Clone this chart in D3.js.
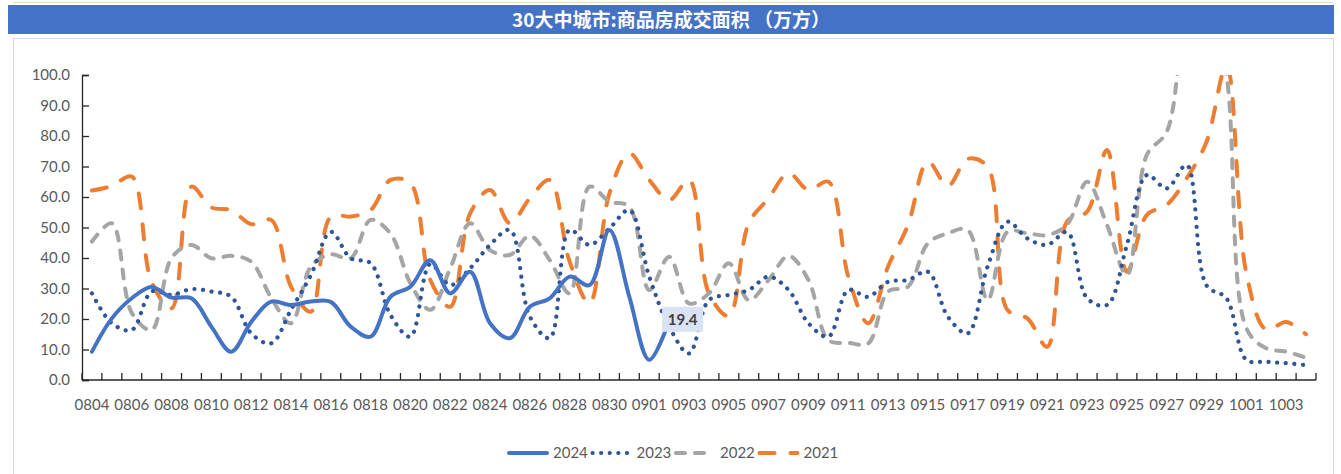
<!DOCTYPE html>
<html>
<head>
<meta charset="utf-8">
<script src="https://cdn.jsdelivr.net/npm/d3@7"></script>
<style>
  body { margin: 0; background: #fff; }
  svg { display: block; }
</style>
</head>
<body>
<div id="chart"></div>
<script>
// Daily categories, 0804 -> 1004
var dates = ['0804','0805','0806','0807','0808','0809','0810','0811','0812','0813',
    '0814','0815','0816','0817','0818','0819','0820','0821','0822','0823','0824','0825',
    '0826','0827','0828','0829','0830','0831','0901','0902','0903','0904','0905','0906',
    '0907','0908','0909','0910','0911','0912','0913','0914','0915','0916','0917','0918',
    '0919','0920','0921','0922','0923','0924','0925','0926','0927','0928','0929','0930',
    '1001','1002','1003','1004'];

// only every second date gets a label
var xTickLabels = ['0804','0806','0808','0810','0812','0814','0816','0818','0820','0822',
    '0824','0826','0828','0830','0901','0903','0905','0907','0909','0911','0913','0915',
    '0917','0919','0921','0923','0925','0927','0929','1001','1003'];

var yTicks = [0, 10, 20, 30, 40, 50, 60, 70, 80, 90, 100];

// 万方
var values2024 = [9.3, 20.2, 26.8, 30.5, 27.0, 26.8, 17.5, 9.3, 19.0, 25.7,
    24.6, 25.7, 25.6, 17.5, 14.2, 27.3, 30.6, 39.3, 28.4, 35.5,
    18.6, 13.7, 24.0, 26.8, 33.9, 31.1, 49.2, 27.3, 6.6, 19.4];

var values2023 = [28.4, 18.6, 16.4, 29.0, 27.9, 29.8, 29.0, 27.3, 15.3, 12.0,
    23.0, 34.4, 48.6, 39.9, 38.3, 21.3, 14.2, 38.0, 31.1, 36.6,
    44.3, 49.2, 20.8, 13.7, 49.2, 44.3, 49.7, 55.7, 33.9, 17.5,
    8.7, 26.2, 27.9, 29.5, 33.9, 29.5, 18.6, 14.2, 29.5, 27.3,
    32.2, 32.8, 35.5, 20.8, 15.3, 37.2, 51.9, 46.4, 44.3, 48.5,
    26.8, 24.6, 44.3, 67.2, 62.8, 70.5, 31.0, 26.8, 6.6, 6.0,
    5.5, 4.9];

var values2022 = [45.4, 51.4, 22.0, 16.4, 40.0, 44.3, 39.9, 40.7, 38.8, 27.0,
    18.6, 37.2, 41.2, 39.9, 52.5, 48.0, 31.7, 23.0, 36.6, 51.4,
    42.6, 41.0, 47.3, 39.3, 28.4, 63.4, 58.5, 56.8, 29.5, 40.4,
    25.1, 28.4, 38.3, 26.2, 32.8, 40.7, 32.8, 13.1, 12.2, 12.0,
    29.0, 30.6, 44.8, 48.1, 49.2, 26.2, 48.6, 48.1, 47.5, 51.0,
    65.0, 50.8, 34.4, 73.8, 81.4, 118.0, 128.0, 100.0, 17.0, 10.4,
    9.3, 7.3];

var values2021 = [62.1, 63.6, 66.7, 32.0, 23.5, 63.4, 56.6, 55.7, 51.1, 52.5,
    30.6, 22.4, 53.5, 53.6, 55.7, 65.6, 64.5, 32.8, 24.0, 54.6,
    62.3, 51.4, 59.6, 65.6, 38.8, 25.1, 61.2, 74.3, 65.6, 59.0,
    65.6, 28.4, 21.0, 51.4, 59.6, 67.8, 62.3, 65.0, 33.9, 18.6,
    37.2, 50.8, 71.6, 63.6, 72.5, 69.9, 23.0, 20.2, 10.9, 52.0,
    55.2, 75.4, 35.5, 54.1, 57.4, 66.1, 78.1, 103.0, 35.0, 16.5,
    19.0, 15.0];

var seriesNames = ['2024', '2023', '2022', '2021'];

var title = '30大中城市:商品房成交面积 （万方）';


// line look per series
var styles = {
    '2024': {color: '#4472C4', width: 4, dash: null, cap: 'round'},
    '2023': {color: '#2F5597', width: 4.2, dash: '0.1 8.5', cap: 'round'},
    '2022': {color: '#A5A5A5', width: 4, dash: '9 10', cap: 'round'},
    '2021': {color: '#ED7D31', width: 4, dash: '15 16', cap: 'round'}
};

var series = [
    {name: '2024', values: values2024},
    {name: '2023', values: values2023},
    {name: '2022', values: values2022},
    {name: '2021', values: values2021}
];

var width = 1341, height = 474;
var plot = {left: 82, right: 1316, top: 75, bottom: 380};

var svg = d3.select('#chart')
    .append('svg')
        .attr('width', width)
        .attr('height', height);

// panel frames
svg.append('line')
    .attr('x1', 13).attr('x2', 1333).attr('y1', 2.5).attr('y2', 2.5)
    .attr('stroke', '#D9D9D9');
svg.append('rect')
    .attr('x', 13.5).attr('y', 38.5)
    .attr('width', 1320).attr('height', 460)
    .attr('fill', 'none')
    .attr('stroke', '#D9D9D9');

// title banner
svg.append('rect')
    .attr('x', 8).attr('y', 5)
    .attr('width', 1326).attr('height', 29)
    .attr('fill', '#4472C4');
svg.append('text')
    .attr('x', 671).attr('y', 20)
    .attr('dy', '0.36em')
    .attr('text-anchor', 'middle')
    .attr('fill', '#fff')
    .style('font-family', '"Noto Sans CJK SC", "Noto Sans", sans-serif')
    .style('font-size', '19px')
    .style('font-weight', 'bold')
    .text(title);

// scales
var x = d3.scaleBand().domain(dates).range([plot.left, plot.right]);
var y = d3.scaleLinear().domain([0, 100]).range([plot.bottom, plot.top]);
var cx = function(d) { return x(d) + x.bandwidth() / 2; };

var font = 'Lato, "Open Sans", sans-serif';

// y axis, ticks pointing into the plot
var yAxis = d3.axisLeft(y)
    .tickValues(yTicks)
    .tickSize(-7)
    .tickPadding(12)
    .tickFormat(d3.format('.1f'));

var gy = svg.append('g')
    .attr('transform', 'translate(' + plot.left + ',0)')
    .call(yAxis);
gy.select('.domain').attr('stroke', '#262626').attr('stroke-width', 1.3);
gy.selectAll('.tick line').attr('stroke', '#262626').attr('stroke-width', 1.3);
gy.selectAll('text')
    .attr('fill', '#595959')
    .style('font-family', font)
    .style('font-size', '15px');

// x axis labels (every other day)
var xAxis = d3.axisBottom(x)
    .tickValues(xTickLabels)
    .tickSize(0)
    .tickPadding(19);

var gx = svg.append('g')
    .attr('transform', 'translate(0,' + plot.bottom + ')')
    .call(xAxis);
gx.select('.domain').remove();
gx.selectAll('text')
    .attr('fill', '#595959')
    .style('font-family', font)
    .style('font-size', '15px');

// x axis line and tick marks between categories
svg.append('line')
    .attr('x1', plot.left).attr('x2', plot.right)
    .attr('y1', plot.bottom).attr('y2', plot.bottom)
    .attr('stroke', '#262626').attr('stroke-width', 1.3);

svg.append('g')
    .selectAll('line')
    .data(dates.map(function(d) { return x(d); }).concat([plot.right]))
    .enter().append('line')
        .attr('x1', function(d) { return d; })
        .attr('x2', function(d) { return d; })
        .attr('y1', plot.bottom)
        .attr('y2', plot.bottom - 7)
        .attr('stroke', '#262626').attr('stroke-width', 1.3);

// clip lines to the plot area (2021 / 2022 go over 100)
svg.append('clipPath')
    .attr('id', 'plotClip')
    .append('rect')
        .attr('x', plot.left).attr('y', plot.top)
        .attr('width', plot.right - plot.left)
        .attr('height', plot.bottom - plot.top);

var valueline = d3.line()
    .x(function(d, i) { return cx(dates[i]); })
    .y(function(d) { return y(d); })
    .curve(d3.curveCatmullRom.alpha(0.5));

var lines = svg.append('g').attr('clip-path', 'url(#plotClip)');

// draw older years first so 2024 sits on top
series.slice().reverse().forEach(function(s) {
    var st = styles[s.name];
    lines.append('path')
        .attr('d', valueline(s.values))
        .attr('fill', 'none')
        .attr('stroke', st.color)
        .attr('stroke-width', st.width)
        .attr('stroke-linecap', st.cap)
        .attr('stroke-linejoin', 'round')
        .attr('stroke-dasharray', st.dash);
});

// data label on the last 2024 point
var lastIdx = values2024.length - 1;
var lx = cx(dates[lastIdx]), ly = y(values2024[lastIdx]);
svg.append('rect')
    .attr('x', lx - 7).attr('y', ly - 14)
    .attr('width', 41).attr('height', 25)
    .attr('fill', '#DAE3F3');
svg.append('text')
    .attr('x', lx + 13.5).attr('y', ly - 1.5)
    .attr('dy', '0.35em')
    .attr('text-anchor', 'middle')
    .attr('fill', '#404040')
    .style('font-family', font)
    .style('font-size', '15px')
    .style('font-weight', 'bold')
    .text(d3.format('.1f')(values2024[lastIdx]));

// legend
var legend = svg.append('g')
    .attr('transform', 'translate(507,453)');

var item = legend.selectAll('g')
    .data(seriesNames)
    .enter().append('g')
        .attr('transform', function(d, i) { return 'translate(' + (i * 83.5) + ',0)'; });

item.append('line')
    .attr('x1', 2).attr('x2', 40)
    .attr('y1', 0).attr('y2', 0)
    .attr('stroke', function(d) { return styles[d].color; })
    .attr('stroke-width', function(d) { return styles[d].width; })
    .attr('stroke-linecap', function(d) { return styles[d].cap; })
    .attr('stroke-dasharray', function(d) { return styles[d].dash; });

item.append('text')
    .attr('x', 46).attr('y', 0)
    .attr('dy', '0.35em')
    .attr('fill', '#595959')
    .style('font-family', font)
    .style('font-size', '15px')
    .text(function(d) { return d; });
</script>
</body>
</html>
